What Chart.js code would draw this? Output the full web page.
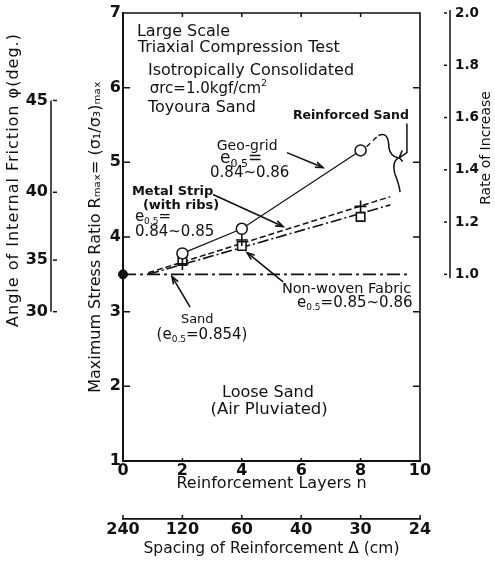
<!DOCTYPE html>
<html>
<head>
<meta charset="utf-8">
<script src="https://cdn.jsdelivr.net/npm/chart.js@4.4.0/dist/chart.umd.min.js"></script>
<style>
  html, body { margin: 0; padding: 0; background: #fff; }
</style>
</head>
<body>
<canvas id="myChart" width="495" height="564"></canvas>
<script>
// values
const layers = [2, 4, 8];
const geoGrid = [3.78, 4.11, 5.16];
const metalStrip = [3.64, 3.96, 4.41];
const nonWoven = [3.68, 3.88, 4.27];

const sandN = [0];
const sandR = [3.5];
const sandLineN = [0, 9.6];
const sandLineR = [3.5, 3.5];

const geoExtN = [8.2, 8.6];
const geoExtR = [5.21, 5.36];
const metalLineN = [0.85, 9.0];
const metalLineR = [3.52, 4.54];
const fabricLineN = [0.85, 9.0];
const fabricLineR = [3.5, 4.43];

// tick labels
const nTicks = [0, 2, 4, 6, 8, 10];
const spacingLabels = [240, 120, 60, 40, 30, 24];
const stressTicks = [1, 2, 3, 4, 5, 6, 7];
const phiTicks = [30, 35, 40, 45];
const rateTicks = [1.0, 1.2, 1.4, 1.6, 1.8, 2.0];
const sandRatio = 3.5;

const FONT = 'DejaVu Sans';
const INK = '#111';

function phiToR(phi) {
    const s = Math.sin(phi * Math.PI / 180);
    return (1 + s) / (1 - s);
}

function pts(xs, ys) {
    return xs.map((x, i) => ({ x: x, y: ys[i] }));
}

// text notes inside the plot, placed in data units
const notes = [
    { parts: [['Large Scale']], n: 0.47, r: 6.75, align: 'left', size: 16 },
    { parts: [['Triaxial Compression Test']], n: 0.5, r: 6.53, align: 'left', size: 16 },
    { parts: [['Isotropically Consolidated']], n: 0.84, r: 6.22, align: 'left', size: 16 },
    { parts: [['σrc=1.0kgf/cm'], ['2', 'sup']], n: 0.9, r: 5.98, align: 'left', size: 15 },
    { parts: [['Toyoura Sand']], n: 0.84, r: 5.73, align: 'left', size: 16 },
    { parts: [['Reinforced Sand']], n: 5.72, r: 5.62, align: 'left', size: 12.5, bold: true },
    { parts: [['Geo-grid']], n: 4.18, r: 5.22, align: 'center', size: 14 },
    { parts: [['e'], ['0.5', 'sub'], ['=']], n: 3.27, r: 5.05, align: 'left', size: 17 },
    { parts: [['0.84~0.86']], n: 2.93, r: 4.85, align: 'left', size: 15 },
    { parts: [['Metal Strip']], n: 0.3, r: 4.61, align: 'left', size: 13, bold: true },
    { parts: [['(with ribs)']], n: 0.67, r: 4.42, align: 'left', size: 13, bold: true },
    { parts: [['e'], ['0.5', 'sub'], ['=']], n: 0.4, r: 4.26, align: 'left', size: 15 },
    { parts: [['0.84~0.85']], n: 0.4, r: 4.07, align: 'left', size: 15 },
    { parts: [['Non-woven Fabric']], n: 5.35, r: 3.30, align: 'left', size: 14.5 },
    { parts: [['e'], ['0.5', 'sub'], ['=0.85~0.86']], n: 5.86, r: 3.12, align: 'left', size: 15 },
    { parts: [['Sand']], n: 2.5, r: 2.90, align: 'center', size: 13 },
    { parts: [['(e'], ['0.5', 'sub'], ['=0.854)']], n: 2.66, r: 2.68, align: 'center', size: 15 },
    { parts: [['Loose Sand']], n: 4.88, r: 1.91, align: 'center', size: 16 },
    { parts: [['(Air Pluviated)']], n: 4.92, r: 1.69, align: 'center', size: 16.5 }
];

// leader arrows [n1, r1, n2, r2]
const arrows = [
    [5.52, 5.13, 6.73, 4.93],
    [3.03, 4.57, 5.39, 4.14],
    [5.39, 3.40, 4.18, 3.79],
    [2.26, 3.06, 1.65, 3.47]
];

function fontStr(size, bold) {
    return (bold ? 'bold ' : '') + size + 'px "' + FONT + '"';
}

function drawRich(ctx, parts, x, y, align, size, bold) {
    const pieces = parts.map(p => {
        const small = p[1] === 'sub' || p[1] === 'sup';
        const sz = small ? Math.round(size * 0.62) : size;
        ctx.font = fontStr(sz, bold);
        return { t: p[0], kind: p[1], font: ctx.font, w: ctx.measureText(p[0]).width };
    });
    const total = pieces.reduce((a, p) => a + p.w, 0);
    let cx = align === 'center' ? x - total / 2 : x;
    ctx.textAlign = 'left';
    ctx.textBaseline = 'middle';
    pieces.forEach(p => {
        ctx.font = p.font;
        let dy = 0;
        if (p.kind === 'sub') dy = size * 0.3;
        if (p.kind === 'sup') dy = -size * 0.35;
        ctx.fillText(p.t, cx, y + dy);
        cx += p.w;
    });
}

function arrowLine(ctx, x1, y1, x2, y2) {
    ctx.beginPath();
    ctx.moveTo(x1, y1);
    ctx.lineTo(x2, y2);
    ctx.stroke();
    const a = Math.atan2(y2 - y1, x2 - x1);
    const h = 8;
    ctx.beginPath();
    ctx.moveTo(x2 - h * Math.cos(a - 0.35), y2 - h * Math.sin(a - 0.35));
    ctx.lineTo(x2, y2);
    ctx.lineTo(x2 - h * Math.cos(a + 0.35), y2 - h * Math.sin(a + 0.35));
    ctx.stroke();
}

// side axes should not push the plot area down
function fixSide(width) {
    return s => {
        s.width = width;
        s.paddingTop = 0;
        s.paddingBottom = 0;
    };
}

const decorPlugin = {
    id: 'decor',
    afterDraw(chart) {
        const ctx = chart.ctx;
        const area = chart.chartArea;
        const sx = chart.scales.x;
        const sy = chart.scales.y;
        const sa = chart.scales.yAngle;
        const sr = chart.scales.yRate;
        const sx2 = chart.scales.x2;
        const X = n => sx.getPixelForValue(n);
        const Y = r => sy.getPixelForValue(r);

        ctx.save();
        ctx.strokeStyle = INK;
        ctx.fillStyle = INK;

        // top and right edges of the frame
        ctx.lineWidth = 1.6;
        ctx.beginPath();
        ctx.moveTo(area.left, area.top);
        ctx.lineTo(area.right, area.top);
        ctx.lineTo(area.right, area.bottom);
        ctx.stroke();

        // inward ticks
        ctx.lineWidth = 1.5;
        stressTicks.slice(1, -1).forEach(v => {
            ctx.beginPath();
            ctx.moveTo(area.left, Y(v));
            ctx.lineTo(area.left + 7, Y(v));
            ctx.moveTo(area.right, Y(v));
            ctx.lineTo(area.right - 7, Y(v));
            ctx.stroke();
        });
        nTicks.slice(1, -1).forEach(v => {
            ctx.beginPath();
            ctx.moveTo(X(v), area.top);
            ctx.lineTo(X(v), area.top + 4);
            ctx.moveTo(X(v), area.bottom);
            ctx.lineTo(X(v), area.bottom - 3);
            ctx.stroke();
        });

        // angle of friction axis
        const ax = sa.right - 9;
        ctx.lineWidth = 1.5;
        ctx.beginPath();
        ctx.moveTo(ax, Y(phiToR(phiTicks[phiTicks.length - 1])));
        ctx.lineTo(ax, Y(phiToR(phiTicks[0])));
        ctx.stroke();
        phiTicks.forEach(p => {
            ctx.beginPath();
            ctx.moveTo(ax + 2, Y(phiToR(p)));
            ctx.lineTo(ax + 6, Y(phiToR(p)));
            ctx.stroke();
        });

        // rate of increase axis
        const rx = sr.left + 30;
        ctx.beginPath();
        ctx.moveTo(rx, sr.getPixelForValue(rateTicks[rateTicks.length - 1]) - 3);
        ctx.lineTo(rx, sr.getPixelForValue(rateTicks[0]) + 4);
        ctx.stroke();
        rateTicks.forEach(v => {
            ctx.beginPath();
            ctx.moveTo(rx - 6, sr.getPixelForValue(v));
            ctx.lineTo(rx - 3, sr.getPixelForValue(v));
            ctx.stroke();
        });

        // spacing axis ticks point up
        nTicks.forEach(v => {
            const p = sx2.getPixelForValue(v);
            ctx.beginPath();
            ctx.moveTo(p, sx2.top);
            ctx.lineTo(p, sx2.top - 4);
            ctx.stroke();
        });

        // rotated side titles
        ctx.textAlign = 'center';
        ctx.textBaseline = 'middle';
        ctx.save();
        ctx.font = fontStr(16, false);
        ctx.letterSpacing = '1px';
        ctx.translate(sa.left + 14, 180);
        ctx.rotate(-Math.PI / 2);
        ctx.fillText('Angle of Internal Friction φ(deg.)', 0, 0);
        ctx.restore();
        ctx.save();
        ctx.font = fontStr(14, false);
        ctx.translate(sr.right - 9, 148);
        ctx.rotate(-Math.PI / 2);
        ctx.fillText('Rate of Increase', 0, 0);
        ctx.restore();

        // notes
        notes.forEach(t => {
            drawRich(ctx, t.parts, X(t.n), Y(t.r), t.align, t.size || 14, t.bold);
        });

        // leader arrows
        ctx.lineWidth = 1.6;
        arrows.forEach(a => arrowLine(ctx, X(a[0]), Y(a[1]), X(a[2]), Y(a[3])));

        // brace for reinforced sand
        ctx.lineWidth = 1.5;
        ctx.beginPath();
        ctx.moveTo(X(8.6), Y(5.36));
        ctx.quadraticCurveTo(X(8.95), Y(5.42), X(8.95), Y(5.2));
        ctx.quadraticCurveTo(X(9.0), Y(5.08), X(9.26), Y(5.06));
        ctx.quadraticCurveTo(X(9.05), Y(5.0), X(9.15), Y(4.85));
        ctx.quadraticCurveTo(X(9.3), Y(4.7), X(9.33), Y(4.6));
        ctx.stroke();
        ctx.beginPath();
        ctx.moveTo(X(9.56), Y(5.52));
        ctx.lineTo(X(9.56), Y(5.13));
        ctx.lineTo(X(9.3), Y(5.06));
        ctx.stroke();
        ctx.beginPath();
        ctx.moveTo(X(9.4), Y(5.16));
        ctx.lineTo(X(9.3), Y(5.06));
        ctx.lineTo(X(9.42), Y(5.01));
        ctx.stroke();

        ctx.restore();
    }
};

const tickFont = { family: FONT, size: 16, weight: 'bold' };

new Chart(document.getElementById('myChart'), {
    type: 'scatter',
    data: {
        datasets: [
            {
                label: 'Geo-grid',
                data: pts(layers, geoGrid),
                showLine: true,
                borderColor: INK,
                borderWidth: 1.2,
                pointStyle: 'circle',
                pointRadius: 5.5,
                pointBorderWidth: 1.5,
                pointBorderColor: INK,
                pointBackgroundColor: '#fff'
            },
            {
                label: 'Metal Strip',
                data: pts(layers, metalStrip),
                showLine: false,
                pointStyle: 'cross',
                pointRadius: 6,
                pointBorderWidth: 1.6,
                pointBorderColor: INK
            },
            {
                label: 'Non-woven Fabric',
                data: pts(layers, nonWoven),
                showLine: false,
                pointStyle: 'rect',
                pointRadius: 6,
                pointBorderWidth: 1.6,
                pointBorderColor: INK,
                pointBackgroundColor: '#fff'
            },
            {
                label: 'Sand',
                data: pts(sandN, sandR),
                showLine: false,
                clip: false,
                pointStyle: 'circle',
                pointRadius: 4.5,
                pointBorderColor: INK,
                pointBackgroundColor: INK
            },
            {
                label: 'Geo-grid trend',
                data: pts(geoExtN, geoExtR),
                showLine: true,
                borderColor: INK,
                borderWidth: 1.4,
                borderDash: [5, 4],
                pointRadius: 0
            },
            {
                label: 'Metal Strip trend',
                data: pts(metalLineN, metalLineR),
                showLine: true,
                borderColor: INK,
                borderWidth: 1.5,
                borderDash: [6, 3],
                pointRadius: 0
            },
            {
                label: 'Non-woven trend',
                data: pts(fabricLineN, fabricLineR),
                showLine: true,
                borderColor: INK,
                borderWidth: 1.6,
                borderDash: [11, 3, 2, 3],
                pointRadius: 0
            },
            {
                label: 'Sand line',
                data: pts(sandLineN, sandLineR),
                showLine: true,
                borderColor: INK,
                borderWidth: 1.6,
                borderDash: [13, 4, 3, 4],
                pointRadius: 0
            }
        ]
    },
    options: {
        responsive: false,
        animation: false,
        events: [],
        layout: { padding: { top: 13, left: 0, right: 0, bottom: 0 } },
        plugins: {
            legend: { display: false },
            tooltip: { enabled: false }
        },
        scales: {
            x: {
                type: 'linear',
                position: 'bottom',
                weight: 0,
                min: 0,
                max: 10,
                afterBuildTicks: s => { s.ticks = nTicks.map(v => ({ value: v })); },
                afterFit: s => { s.height = 58; },
                ticks: { font: tickFont, color: INK, padding: 0, maxRotation: 0, autoSkip: false },
                grid: { display: false, drawTicks: false },
                border: { display: true, color: INK, width: 2 },
                title: {
                    display: true,
                    text: 'Reinforcement Layers n',
                    font: { family: FONT, size: 16 },
                    color: INK,
                    padding: { top: 0, bottom: 26 }
                }
            },
            x2: {
                type: 'linear',
                position: 'bottom',
                weight: 1,
                min: 0,
                max: 10,
                afterBuildTicks: s => { s.ticks = nTicks.map(v => ({ value: v })); },
                afterFit: s => { s.height = 45; },
                ticks: {
                    font: tickFont,
                    color: INK,
                    padding: 1,
                    maxRotation: 0,
                    autoSkip: false,
                    callback: (v, i) => spacingLabels[i]
                },
                grid: { display: false, drawTicks: false },
                border: { display: true, color: INK, width: 1.8 },
                title: {
                    display: true,
                    text: 'Spacing of Reinforcement Δ (cm)',
                    font: { family: FONT, size: 15.5 },
                    color: INK,
                    padding: { top: 0, bottom: 6 }
                }
            },
            y: {
                type: 'linear',
                position: 'left',
                weight: 0,
                min: 1,
                max: 7,
                afterBuildTicks: s => { s.ticks = stressTicks.map(v => ({ value: v })); },
                afterFit: fixSide(63),
                ticks: { font: tickFont, color: INK, padding: 2 },
                grid: { display: false, drawTicks: false },
                border: { display: true, color: INK, width: 2 },
                title: {
                    display: true,
                    text: 'Maximum Stress Ratio Rₘₐₓ= (σ₁/σ₃)ₘₐₓ',
                    font: { family: FONT, size: 16 },
                    color: INK,
                    padding: { top: 26, bottom: 0 }
                }
            },
            yAngle: {
                type: 'linear',
                position: 'left',
                weight: 1,
                min: 1,
                max: 7,
                afterBuildTicks: s => { s.ticks = phiTicks.map(p => ({ value: phiToR(p) })); },
                afterFit: fixSide(60),
                ticks: {
                    font: tickFont,
                    color: INK,
                    padding: 12,
                    callback: (v, i) => phiTicks[i]
                },
                grid: { display: false, drawTicks: false },
                border: { display: false }
            },
            yRate: {
                type: 'linear',
                position: 'right',
                min: 1 / sandRatio,
                max: 7 / sandRatio,
                afterBuildTicks: s => { s.ticks = rateTicks.map(v => ({ value: v })); },
                afterFit: fixSide(75),
                ticks: {
                    font: { family: FONT, size: 13.5, weight: 'bold' },
                    color: INK,
                    padding: 35,
                    callback: v => v.toFixed(1)
                },
                grid: { display: false, drawTicks: false },
                border: { display: false }
            }
        }
    },
    plugins: [decorPlugin]
});
</script>
</body>
</html>
